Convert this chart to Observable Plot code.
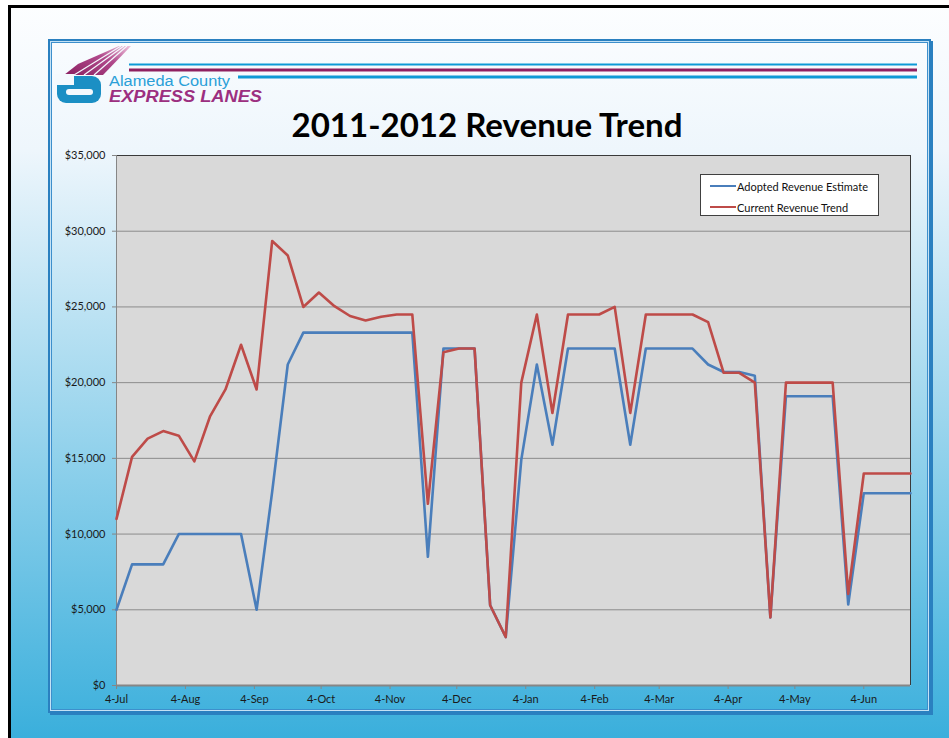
<!DOCTYPE html>
<html>
<head>
<meta charset="utf-8">
<script src="https://cdn.jsdelivr.net/npm/d3@7"></script>
<script src="https://cdn.jsdelivr.net/npm/@observablehq/plot@0.6"></script>
<style>
  html, body { margin: 0; padding: 0; width: 949px; height: 738px; overflow: hidden; background: #ffffff; }
  .bg { background: linear-gradient(to bottom, #fdfeff 0px, #eef6fc 150px, #3aafdc 738px) fixed; }
  #frame { position: absolute; left: 8px; top: 5px; width: 980px; height: 780px; border-top: 3px solid #000; border-left: 3px solid #000; }
  #panel { position: absolute; left: 48px; top: 39px; width: 879px; height: 670px; border: 2px solid #2a80c0;
           box-shadow: inset 0 0 0 1px #c4e2f5, inset 0 0 0 2px #3d8fcc, 2px 2px 0 0 #2a80c0; }
  #deco { position: absolute; left: 0; top: 0; }
  #chart { position: absolute; left: 0; top: 0; }
  #legend { position: absolute; left: 700px; top: 174px; width: 177px; height: 40px; background: #fff; border: 1px solid #404040;
            font-family: Lato, "Open Sans", sans-serif; font-size: 11px; color: #111; }
  .item { position: absolute; left: 9px; height: 14px; display: flex; align-items: center; white-space: nowrap; }
  .sw { width: 26px; height: 2.6px; margin-right: 1px; }
</style>
</head>
<body>
<div id="frame" class="bg"></div>
<div id="panel" class="bg"></div>
<svg id="deco" width="949" height="738" xmlns="http://www.w3.org/2000/svg">
  <defs>
    <linearGradient id="stripe" x1="0" y1="1" x2="1" y2="0">
      <stop offset="0" stop-color="#8a1f60"/>
      <stop offset="0.6" stop-color="#b14a8c"/>
      <stop offset="1" stop-color="#f0c4de"/>
    </linearGradient>
  </defs>
  <!-- logo stripes: one wedge split by thin light lines -->
  <polygon points="64,75 103,75 131,46 119,46 78,64" fill="url(#stripe)"/>
  <line x1="74" y1="75" x2="121" y2="46" stroke="#f4f9fd" stroke-width="1.2"/>
  <line x1="84" y1="75" x2="124" y2="46" stroke="#f4f9fd" stroke-width="1.2"/>
  <line x1="94" y1="75" x2="127" y2="46" stroke="#f4f9fd" stroke-width="1.2"/>
  <!-- logo "a" mark -->
  <rect x="57" y="76" width="44" height="27" rx="9" fill="#1b8fc4"/>
  <rect x="55" y="74" width="19" height="11" fill="#f4f9fd"/>
  <rect x="66" y="89" width="27" height="6" rx="3" fill="#f4f9fd"/>
  <text x="109" y="86" font-family="Liberation Sans, Arial, sans-serif" font-size="14" fill="#2a9fd8" textLength="121" lengthAdjust="spacingAndGlyphs">Alameda County</text>
  <text x="109" y="102" font-family="Liberation Sans, Arial, sans-serif" font-size="16" font-weight="bold" font-style="italic" fill="#9c2f80" textLength="153" lengthAdjust="spacingAndGlyphs">EXPRESS LANES</text>
  <!-- header rules -->
  <line x1="129" x2="917" y1="64.5" y2="64.5" stroke="#0d9ad6" stroke-width="2"/>
  <line x1="129" x2="917" y1="70" y2="70" stroke="#8f2060" stroke-width="3"/>
  <line x1="238" x2="917" y1="77" y2="77" stroke="#0d9ad6" stroke-width="3"/>
  <!-- title -->
  <text x="487" y="137" text-anchor="middle" font-family="Lato, 'Open Sans', sans-serif" font-size="33" font-weight="bold" fill="#000" textLength="391" lengthAdjust="spacingAndGlyphs">2011-2012 Revenue Trend</text>
</svg>
<div id="chart"></div>
<div id="legend">
  <div class="item" style="top:4px"><span class="sw" style="background:#4a7ebb"></span>Adopted Revenue Estimate</div>
  <div class="item" style="top:25px"><span class="sw" style="background:#be4b48"></span>Current Revenue Trend</div>
</div>
<script>
const weeks = [
  "2011-07-04","2011-07-11","2011-07-18","2011-07-25",
  "2011-08-01","2011-08-08","2011-08-15","2011-08-22","2011-08-29",
  "2011-09-05","2011-09-12","2011-09-19","2011-09-26",
  "2011-10-03","2011-10-10","2011-10-17","2011-10-24","2011-10-31",
  "2011-11-07","2011-11-14","2011-11-21","2011-11-28",
  "2011-12-05","2011-12-12","2011-12-19","2011-12-26",
  "2012-01-02","2012-01-09","2012-01-16","2012-01-23","2012-01-30",
  "2012-02-06","2012-02-13","2012-02-20","2012-02-27",
  "2012-03-05","2012-03-12","2012-03-19","2012-03-26",
  "2012-04-02","2012-04-09","2012-04-16","2012-04-23","2012-04-30",
  "2012-05-07","2012-05-14","2012-05-21","2012-05-28",
  "2012-06-04","2012-06-11","2012-06-18","2012-06-25"
];
const adopted = [
  5000, 8000, 8000, 8000,
  10000, 10000, 10000, 10000, 10000,
  5000, 12800, 21200, 23300,
  23300, 23300, 23300, 23300, 23300,
  23300, 23300, 8500, 22250,
  22250, 22250, 5300, 3200,
  14900, 21200, 15900, 22250, 22250,
  22250, 22250, 15900, 22250,
  22250, 22250, 22250, 21200,
  20700, 20700, 20450, 4500, 19100,
  19100, 19100, 19100, 5350,
  12700, 12700, 12700, 12700
];
const current = [
  11000, 15100, 16300, 16800,
  16500, 14800, 17750, 19550, 22500,
  19550, 29350, 28400, 25000,
  25950, 25050, 24400, 24100, 24350,
  24500, 24500, 12000, 22000,
  22250, 22250, 5300, 3200,
  20000, 24500, 18000, 24500, 24500,
  24500, 25000, 18000, 24500,
  24500, 24500, 24500, 24000,
  20650, 20650, 20000, 4500, 20000,
  20000, 20000, 20000, 6050,
  14000, 14000, 14000, 14000
];
const seriesNames = ["Adopted Revenue Estimate", "Current Revenue Trend"];
const seriesColors = ["#4a7ebb", "#be4b48"];
const yTicks = [0, 5000, 10000, 15000, 20000, 25000, 30000, 35000];
const xTicks = ["2011-07-04","2011-08-04","2011-09-04","2011-10-04","2011-11-04","2011-12-04",
                "2012-01-04","2012-02-04","2012-03-04","2012-04-04","2012-05-04","2012-06-04"];

const parse = d3.utcParse("%Y-%m-%d");
const rows = [];
weeks.forEach((w, i) => {
  rows.push({date: parse(w), value: adopted[i], series: seriesNames[0]});
  rows.push({date: parse(w), value: current[i], series: seriesNames[1]});
});
const x0 = parse(weeks[0]), x1 = parse(weeks[weeks.length - 1]);

const chart = Plot.plot({
  width: 949,
  height: 738,
  marginLeft: 116,
  marginRight: 39,
  marginTop: 155,
  marginBottom: 53,
  style: {background: "transparent", fontFamily: "Lato, 'Open Sans', sans-serif", fontSize: "11px", color: "#1a1a1a"},
  x: {type: "utc", domain: [x0, x1]},
  y: {domain: [0, 35000]},
  color: {domain: seriesNames, range: seriesColors},
  marks: [
    Plot.frame({fill: "#d9d9d9", stroke: null}),
    Plot.ruleY(yTicks.slice(1, -1), {stroke: "#8c8c8c", strokeWidth: 1}),
    Plot.ruleY([35000], {stroke: "#3a3a3a", strokeWidth: 1}),
    Plot.ruleX([x1], {stroke: "#3a3a3a", strokeWidth: 1}),
    Plot.ruleX([x0], {stroke: "#868686", strokeWidth: 1}),
    Plot.axisY({ticks: yTicks, tickFormat: d3.format("$,"), tickSize: 4, tickPadding: 7, stroke: "#868686", label: null}),
    Plot.axisX({ticks: xTicks.map(parse), tickFormat: d3.utcFormat("%-d-%b"), tickSize: 4, tickPadding: 6, stroke: "#868686", label: null}),
    Plot.ruleY([0], {stroke: "#868686", strokeWidth: 2}),
    Plot.line(rows, {x: "date", y: "value", z: "series", stroke: "series", strokeWidth: 2.6})
  ]
});
document.getElementById("chart").appendChild(chart);
</script>
</body>
</html>
